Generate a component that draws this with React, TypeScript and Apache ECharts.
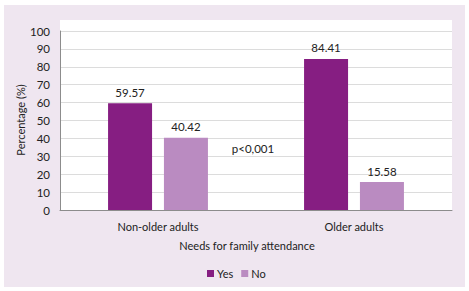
import React, { useEffect, useRef } from "react";
import * as echarts from "echarts";

const categories = ["Non-older adults", "Older adults"];
const yesValues = [59.57, 84.41];
const noValues = [40.42, 15.58];
const seriesNames = ["Yes", "No"];
const yTicks = { min: 0, max: 100, interval: 10 };
const xAxisTitle = "Needs for family attendance";
const yAxisTitle = "Percentage (%)";
const annotation = "p<0,001";

const FONT = "Lato, 'Open Sans', sans-serif";

export default function App() {
  const ref = useRef<HTMLDivElement>(null);
  useEffect(() => {
    document.body.style.margin = "0";
    const chart = echarts.init(ref.current!, null, { renderer: "svg" });
    chart.setOption({
      animation: false,
      backgroundColor: "#ffffff",
      textStyle: { fontFamily: FONT },
      graphic: [
        { type: "rect", z: -10, shape: { x: 4, y: 5, width: 461, height: 282 }, style: { fill: "#EFE6F0" } },
        { type: "rect", z: -9, shape: { x: 60, y: 20, width: 392, height: 191 }, style: { fill: "#ffffff" } },
        {
          type: "text", x: 247, y: 245,
          style: { text: xAxisTitle, fill: "#222", font: `11px ${FONT}`, align: "center", verticalAlign: "middle" },
        },
        {
          type: "text", x: 20, y: 120, rotation: Math.PI / 2,
          style: { text: yAxisTitle, fill: "#222", font: `11px ${FONT}`, align: "center", verticalAlign: "middle" },
        },
        {
          type: "text", x: 253, y: 148,
          style: { text: annotation, fill: "#222", font: `11.5px ${FONT}`, align: "center", verticalAlign: "middle" },
        },
      ],
      grid: { left: 60, top: 31, width: 392, height: 179, containLabel: false },
      legend: {
        data: seriesNames,
        left: 202,
        top: 263,
        icon: "rect",
        itemWidth: 7,
        itemHeight: 7,
        itemGap: 8,
        textStyle: { fontFamily: FONT, fontSize: 11, color: "#222", padding: [0, 0, 0, -2] },
      },
      xAxis: {
        type: "category",
        data: categories,
        axisLine: { lineStyle: { color: "#8c8c8c" } },
        axisTick: { show: false },
        axisLabel: { color: "#222", fontSize: 11, fontFamily: FONT, margin: 11 },
      },
      yAxis: {
        type: "value",
        min: yTicks.min,
        max: yTicks.max,
        interval: yTicks.interval,
        axisLine: { show: true, lineStyle: { color: "#8c8c8c" } },
        axisTick: { show: false },
        axisLabel: { color: "#222", fontSize: 11.5, fontFamily: FONT, margin: 10 },
        splitLine: { lineStyle: { color: "#dcdcdc" } },
      },
      series: [
        {
          name: seriesNames[0],
          type: "bar",
          data: yesValues,
          barWidth: 44,
          barGap: "27%",
          itemStyle: { color: "#861E82" },
          label: { show: true, position: "top", distance: 5, color: "#222", fontSize: 11.5, fontFamily: FONT },
        },
        {
          name: seriesNames[1],
          type: "bar",
          data: noValues,
          barWidth: 44,
          itemStyle: { color: "#BA8BC1" },
          label: { show: true, position: "top", distance: 5, color: "#222", fontSize: 11.5, fontFamily: FONT },
        },
      ],
    });
    return () => chart.dispose();
  }, []);
  return <div ref={ref} style={{ width: 469, height: 291 }} />;
}
